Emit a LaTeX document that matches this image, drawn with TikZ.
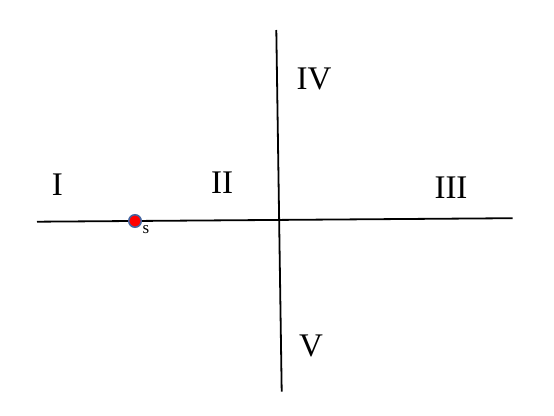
\documentclass[tikz,border=0pt]{standalone}
\usepackage{fontspec}
\setmainfont{Liberation Serif}
\begin{document}
\begin{tikzpicture}[x=1pt,y=-1pt,
  axis/.style={line width=1.8pt,black},
  region/.style={inner sep=0pt,font=\fontsize{33}{33}\selectfont},
  pt/.style={circle,fill=red,draw={rgb,255:red,68;green,100;blue,160},line width=1.5pt,minimum size=12.5pt,inner sep=0pt},
  lbl/.style={inner sep=0pt,font=\fontsize{17}{17}\selectfont}]
\useasboundingbox (0,0) rectangle (554,415);
\coordinate (hl) at (37,221.7);
\coordinate (hr) at (512.5,218.2);
\coordinate (vt) at (276.3,30);
\coordinate (vb) at (281.7,391.7);
\draw[axis] (hl) -- (hr);
\draw[axis] (vt) -- (vb);
\node[pt] (s) at (135,221) {};
\node[lbl,anchor=base] (slabel) at (146,233.5) {s};
\node[region] (r1) at (57.3,184.7) {I};
\node[region] (r2) at (222,183) {II};
\node[region] (r3) at (451,187.5) {III};
\node[region] (r4) at (314,78.8) {IV};
\node[region] (r5) at (311,346) {V};
\end{tikzpicture}
\end{document}
